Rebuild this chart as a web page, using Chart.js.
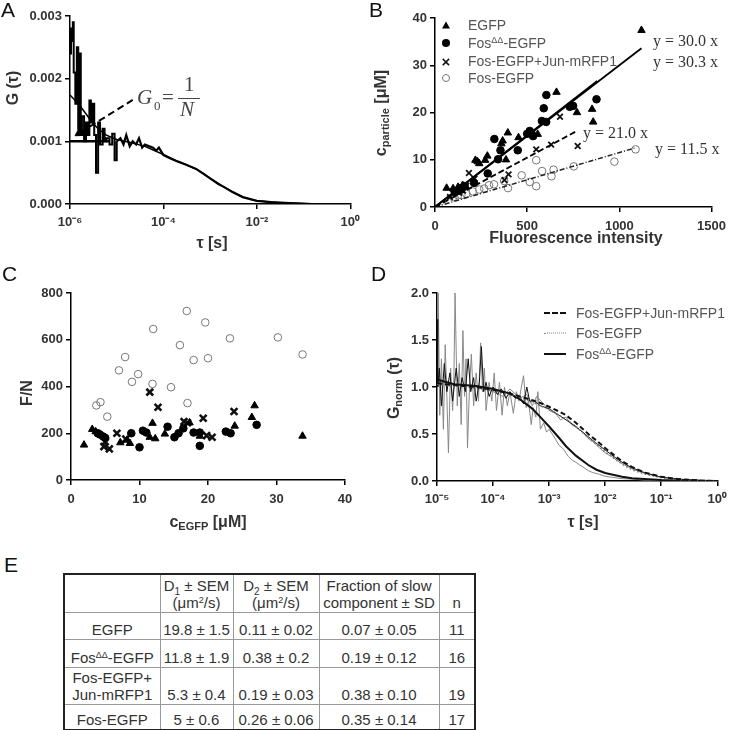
<!DOCTYPE html>
<html>
<head>
<meta charset="utf-8">
<title>FCS figure</title>
<script src="https://cdn.jsdelivr.net/npm/chart.js@4.4.1/dist/chart.umd.min.js"></script>
<style>
  body { margin: 0; background: #fff; }
  #fig { position: relative; width: 733px; height: 730px; overflow: hidden; font-family: "Liberation Sans", Arial, sans-serif; color: #333; }
  #fig canvas { position: absolute; }
  .panel { position: absolute; font-size: 21px; line-height: 24px; color: #111; }
  .ttl { position: absolute; transform: translate(-50%, -50%); font-weight: bold; font-size: 16px; line-height: 18px; white-space: nowrap; color: #333; }
  .ttl.v { transform: translate(-50%, -50%) rotate(-90deg); }
  .ttl sub { font-size: 11px; vertical-align: -3px; line-height: 0; }
  .leg { position: absolute; font-size: 14px; line-height: 16px; color: #555; white-space: nowrap; transform: translateY(-50%); }
  .leg sup, td sup { font-size: 9px; vertical-align: 5px; line-height: 0; }
  .mk { position: absolute; transform: translate(-50%, -50%); }
  .tri { width: 0; height: 0; border-left: 4px solid transparent; border-right: 4px solid transparent; border-bottom: 7px solid #000; }
  .dot { width: 8px; height: 8px; border-radius: 50%; background: #000; }
  .ring { width: 8px; height: 8px; border-radius: 50%; border: 1px solid #777; box-sizing: border-box; }
  .xm { font-size: 15px; font-weight: bold; line-height: 15px; color: #111; }
  .ln { position: absolute; width: 22px; height: 0; transform: translateY(-50%); }
  .eq { position: absolute; font-family: "Liberation Serif", "Times New Roman", serif; font-size: 16px; line-height: 17px; color: #333; white-space: nowrap; transform: translateY(-50%); }
  .g0 { position: absolute; font-family: "Liberation Serif", "Times New Roman", serif; font-size: 21px; line-height: 21px; color: #444; }
  table { position: absolute; left: 63px; top: 573px; width: 411px; border-collapse: collapse; table-layout: fixed; border: 2px solid #222; font-size: 15px; color: #333; }
  td { border: 1px solid #999; text-align: center; vertical-align: bottom; padding: 0 2px 1px; line-height: 17px; white-space: nowrap; overflow: hidden; }
</style>
</head>
<body>
<div id="fig">
  <canvas id="cA" width="366" height="255" style="left:0;top:0"></canvas>
  <canvas id="cB" width="367" height="255" style="left:366px;top:0"></canvas>
  <canvas id="cC" width="366" height="285" style="left:0;top:250px"></canvas>
  <canvas id="cD" width="367" height="285" style="left:366px;top:250px"></canvas>

  <div class="panel" style="left:1px;top:-2px">A</div>
  <div class="panel" style="left:369px;top:-2px">B</div>
  <div class="panel" style="left:2px;top:262px">C</div>
  <div class="panel" style="left:371px;top:262px">D</div>
  <div class="panel" style="left:4px;top:553px">E</div>

  <!-- axis titles -->
  <div class="ttl v" style="left:13px;top:88px">G (τ)</div>
  <div class="ttl" style="left:212px;top:243px">τ [s]</div>
  <div class="ttl v" style="left:381px;top:113px">c<sub>particle</sub> [μM]</div>
  <div class="ttl" style="left:576px;top:238px">Fluorescence intensity</div>
  <div class="ttl v" style="left:27px;top:393px">F/N</div>
  <div class="ttl" style="left:208px;top:522px">c<sub>EGFP</sub> [μM]</div>
  <div class="ttl v" style="left:394px;top:388px">G<sub>norm</sub> (τ)</div>
  <div class="ttl" style="left:583px;top:522px">τ [s]</div>

  <!-- G0 = 1/N annotation -->
  <div class="g0" style="left:137px;top:87px;font-style:italic">G</div>
  <div class="g0" style="left:154px;top:99px;font-size:13px;line-height:13px">0</div>
  <div class="g0" style="left:162px;top:87px">=</div>
  <div class="g0" style="left:184px;top:74px">1</div>
  <div style="position:absolute;left:178px;top:98px;width:22px;height:1px;background:#444"></div>
  <div class="g0" style="left:180px;top:99px;font-style:italic">N</div>

  <!-- legend B -->
  <div class="mk tri" style="left:446px;top:25px"></div>
  <div class="mk dot" style="left:446px;top:43px"></div>
  <div class="mk xm" style="left:446px;top:61px">×</div>
  <div class="mk ring" style="left:446px;top:78px"></div>
  <div class="leg" style="left:468px;top:25px">EGFP</div>
  <div class="leg" style="left:468px;top:43px">Fos<sup>ΔΔ</sup>-EGFP</div>
  <div class="leg" style="left:468px;top:61px">Fos-EGFP+Jun-mRFP1</div>
  <div class="leg" style="left:468px;top:78px">Fos-EGFP</div>

  <!-- fit equations B -->
  <div class="eq" style="left:653px;top:40px">y = 30.0 x</div>
  <div class="eq" style="left:653px;top:61px">y = 30.3 x</div>
  <div class="eq" style="left:583px;top:132px">y = 21.0 x</div>
  <div class="eq" style="left:655px;top:148px">y = 11.5 x</div>

  <!-- legend D -->
  <div class="ln" style="left:544px;top:313px;border-top:2px dashed #111"></div>
  <div class="ln" style="left:544px;top:333px;border-top:1.5px dotted #888"></div>
  <div class="ln" style="left:544px;top:354px;border-top:2px solid #111"></div>
  <div class="leg" style="left:576px;top:313px">Fos-EGFP+Jun-mRFP1</div>
  <div class="leg" style="left:576px;top:333px">Fos-EGFP</div>
  <div class="leg" style="left:576px;top:354px">Fos<sup>ΔΔ</sup>-EGFP</div>

  <table id="tblE"></table>
</div>

<script>
// ---- panel A : autocorrelation curve ----
const tauRawA = [1.0e-6, 1.05e-6, 1.1e-6, 1.15e-6, 1.2e-6, 1.3e-6, 1.4e-6, 1.5e-6, 1.6e-6, 1.7e-6, 1.8e-6, 2.0e-6, 2.2e-6, 2.4e-6, 2.6e-6, 2.8e-6, 3.0e-6, 3.3e-6, 3.6e-6, 4.0e-6, 4.4e-6, 5.0e-6, 5.5e-6, 6.0e-6, 7e-6, 8e-6, 9e-6, 1.0e-5, 1.2e-5, 1.4e-5, 1.6e-5, 1.9e-5, 2.2e-5, 2.6e-5, 3.0e-5, 3.5e-5, 4e-5, 5e-5, 6e-5, 7e-5, 8e-5, 1e-4, 1.5e-4, 2e-4, 3e-4, 5e-4, 7e-4, 1e-3, 1.5e-3, 2e-3, 3e-3, 5e-3, 1e-2, 2e-2, 5e-2, 0.1, 0.15];
const gRawA = [0.0024, 0.0028, 0.0026, 0.0029, 0.0021, 0.0016, 0.0025, 0.0012, 0.0024, 0.0011, 0.0014, 0.0010, 0.0013, 0.0011, 0.00165, 0.0013, 0.0016, 0.0011, 0.0005, 0.0013, 0.00095, 0.0012, 0.0010, 0.00105, 0.00095, 0.00112, 0.0007, 0.0010, 0.00105, 0.00095, 0.0011, 0.00092, 0.0010, 0.00095, 0.00105, 0.0009, 0.00095, 0.00092, 0.0009, 0.00085, 0.0009, 0.00078, 0.00072, 0.00068, 0.00063, 0.00056, 0.00049, 0.00041, 0.00032, 0.00027, 0.00019, 0.00011, 0.00005, 0.00003, 0.000015, 0.000005, 0.0];
const noisyEndA = 27;   // index of 1e-5: spiky (stepped) part before, smooth part after
const tauFitA = [1e-6, 1.5e-6, 2e-6, 3e-6, 4e-6, 6e-6, 1e-5, 2e-5, 4e-5, 1e-4, 2e-4, 5e-4, 1e-3, 2e-3, 5e-3, 1e-2, 3e-2, 0.1];
const gFitA = [0.00174, 0.00160, 0.00148, 0.00130, 0.00120, 0.00110, 0.00103, 0.00098, 0.00092, 0.00079, 0.00068, 0.00056, 0.00041, 0.00027, 0.00011, 0.00005, 0.00002, 0.000003];
const tauG0A = [1e-6, 7e-6];
const gG0A = [0.001, 0.001];
const tauArrowA = [1.65e-6, 2.2e-5];
const gArrowA = [0.00114, 0.00166];
const tickValsA = [1e-6, 1e-4, 1e-2, 1];
const tickLabelsA = ['10⁻⁶', '10⁻⁴', '10⁻²', '10⁰'];

// ---- panel B : concentration vs fluorescence ----
const egfpB = [[63, 4.0], [98, 3.9], [125, 4.2], [140, 3.5], [150, 4.6], [219, 9.9], [231, 9.6], [240, 9.2], [272, 9.9], [284, 10.8], [360, 13.4], [367, 14.0], [385, 10.0], [395, 15.7], [453, 14.7], [557, 15.4], [659, 24.3], [770, 20.0], [852, 20.7], [858, 18.0], [1120, 37.4]];
const fosDDB = [[108, 3.2], [120, 3.4], [134, 3.9], [148, 4.1], [161, 4.4], [212, 5.1], [286, 7.1], [322, 14.4], [342, 10.1], [355, 12.0], [449, 12.0], [500, 15.5], [514, 16.1], [523, 15.6], [532, 15.0], [580, 18.2], [590, 20.9], [603, 18.0], [604, 23.7], [731, 21.2], [749, 21.4], [876, 22.8]];
const fosJunB = [[81, 2.1], [99, 2.8], [130, 3.0], [152, 3.5], [170, 4.5], [184, 7.2], [214, 6.0], [377, 5.7], [399, 6.9], [549, 12.2], [630, 13.2], [678, 19.1], [774, 12.9]];
const fosB = [[99, 2.1], [125, 2.5], [143, 2.5], [170, 2.8], [205, 3.3], [240, 3.7], [267, 3.9], [293, 4.6], [320, 4.8], [375, 5.5], [396, 4.0], [470, 6.7], [514, 5.3], [549, 4.4], [549, 9.9], [581, 7.6], [632, 6.5], [643, 7.9], [753, 8.6], [973, 9.6], [1088, 12.2]];
const fitEgfpB = [[0, 0], [1120, 33.6]];
const fitFosDDB = [[0, 0], [880, 26.7]];
const fitFosJunB = [[0, 0], [775, 16.2]];
const fitFosB = [[0, 0], [1085, 12.5]];

// ---- panel C : brightness vs concentration ----
const egfpC = [[1.9, 150], [3.1, 217], [3.6, 207], [7.2, 160], [8.2, 171], [8.6, 157], [11.5, 183], [11.9, 243], [12.3, 177], [13.7, 197], [17.3, 245], [18.8, 188], [23.9, 231], [26.4, 268], [26.8, 318], [33.8, 188]];
const fosDDC = [[3.9, 200], [4.2, 195], [4.7, 186], [5.0, 180], [8.8, 200], [10.0, 140], [10.5, 211], [11.0, 203], [14.1, 228], [15.1, 183], [15.7, 200], [16.4, 221], [17.9, 203], [18.8, 203], [18.8, 146], [22.6, 207], [23.3, 200], [27.1, 236]];
const fosJunC = [[4.8, 143], [5.0, 164], [5.6, 133], [6.7, 200], [8.0, 175], [11.5, 376], [12.7, 311], [16.5, 250], [17.0, 245], [19.3, 264], [19.8, 190], [20.6, 183], [23.8, 293]];
const fosC = [[3.7, 319], [4.3, 333], [5.3, 271], [7.0, 469], [7.9, 526], [8.9, 420], [9.8, 453], [11.9, 411], [12.0, 646], [14.6, 397], [15.9, 577], [16.9, 723], [17.0, 329], [17.9, 513], [19.6, 674], [20.0, 521], [23.2, 606], [30.2, 610], [33.8, 537]];

// ---- panel D : normalised autocorrelation curves ----
const tauFitD = [1e-5, 2e-5, 5e-5, 1e-4, 2e-4, 3e-4, 5e-4, 7e-4, 1e-3, 1.5e-3, 2e-3, 3e-3, 5e-3, 7e-3, 1e-2, 2e-2, 3e-2, 5e-2, 0.1, 0.2, 0.5, 1];
const fitFosJunD = [1.04, 1.02, 1.00, 0.97, 0.93, 0.90, 0.86, 0.83, 0.79, 0.74, 0.70, 0.62, 0.50, 0.43, 0.35, 0.21, 0.15, 0.09, 0.045, 0.02, 0.005, 0];
const fitFosD = [1.03, 1.01, 0.99, 0.96, 0.92, 0.89, 0.84, 0.80, 0.76, 0.70, 0.66, 0.58, 0.46, 0.39, 0.31, 0.18, 0.12, 0.075, 0.035, 0.015, 0.004, 0];
const fitFosDDD = [1.08, 1.03, 1.01, 0.98, 0.93, 0.87, 0.77, 0.68, 0.58, 0.46, 0.37, 0.27, 0.17, 0.12, 0.085, 0.045, 0.03, 0.02, 0.01, 0.005, 0.002, 0];
const tauNoisyD = [1e-5, 1.05e-5, 1.12e-5, 1.2e-5, 1.3e-5, 1.4e-5, 1.5e-5, 1.6e-5, 1.75e-5, 1.9e-5, 2.0e-5, 2.1e-5, 2.3e-5, 2.5e-5, 2.7e-5, 2.9e-5, 3.1e-5, 3.3e-5, 3.5e-5, 3.8e-5, 4.1e-5, 4.5e-5, 5.0e-5, 5.5e-5, 6.0e-5, 6.5e-5, 7e-5, 7.5e-5, 8.5e-5, 9.5e-5, 1.05e-4, 1.15e-4, 1.3e-4, 1.45e-4, 1.6e-4, 1.8e-4, 2.0e-4, 2.3e-4, 2.6e-4, 2.9e-4, 3.2e-4, 3.5e-4, 3.9e-4, 4.3e-4, 4.8e-4, 5.2e-4, 5.8e-4, 6.3e-4, 7e-4, 8e-4, 9e-4, 1e-3, 1.2e-3, 1.5e-3, 1.8e-3, 2.2e-3, 2.6e-3, 3e-3, 3.5e-3, 4e-3, 5e-3, 6e-3, 8e-3, 1e-2, 1.5e-2, 2e-2, 3e-2, 5e-2, 0.1, 0.2];
const gNoisyD = [1.0, 2.0, 0.7, 1.3, 0.55, 1.45, 0.9, 0.3, 1.2, 0.75, 1.1, 2.0, 0.8, 1.25, 0.6, 1.6, 0.9, 1.3, 0.35, 1.0, 1.35, 0.8, 1.15, 0.85, 1.47, 0.95, 1.2, 0.75, 1.05, 0.85, 1.15, 0.75, 1.05, 0.7, 1.0, 0.8, 0.95, 0.72, 0.95, 0.85, 1.0, 1.12, 0.78, 0.85, 0.6, 0.78, 0.68, 0.95, 0.55, 0.62, 0.52, 0.55, 0.48, 0.38, 0.34, 0.26, 0.22, 0.2, 0.17, 0.15, 0.11, 0.09, 0.07, 0.05, 0.035, 0.025, 0.02, 0.01, 0.005, 0.0];
const tauBlackD = [1e-5, 1.03e-5, 1.1e-5, 1.2e-5, 1.35e-5, 1.5e-5, 1.7e-5, 1.9e-5, 2.2e-5, 2.5e-5, 2.8e-5, 3.2e-5, 3.6e-5, 4e-5, 4.5e-5, 5e-5, 5.7e-5, 6.2e-5, 6.8e-5, 7.5e-5, 8.5e-5, 1e-4, 1.2e-4, 1.4e-4, 1.7e-4, 2e-4, 2.5e-4, 3e-4, 3.5e-4, 4e-4, 4.5e-4, 5.5e-4, 7e-4, 1e-3, 1.5e-3, 2e-3, 3e-3, 5e-3, 7e-3, 1e-2, 1.5e-2, 2e-2, 3e-2, 5e-2, 0.1, 0.2, 0.5, 1];
const gBlackD = [1.72, 1.0, 1.2, 0.8, 1.25, 0.95, 1.15, 0.85, 1.2, 0.9, 1.1, 0.95, 1.3, 0.95, 1.1, 0.85, 1.05, 1.43, 0.95, 1.05, 0.9, 1.0, 0.92, 0.98, 0.88, 0.95, 0.88, 0.9, 0.82, 1.0, 0.85, 0.85, 0.8, 0.77, 0.7, 0.65, 0.58, 0.47, 0.4, 0.33, 0.25, 0.2, 0.14, 0.09, 0.04, 0.02, 0.005, 0];
const tauGray2D = [1e-4, 1.5e-4, 2e-4, 3e-4, 4e-4, 5e-4, 6e-4, 8e-4, 1e-3, 1.3e-3, 1.6e-3, 2e-3, 2.5e-3, 3e-3, 4e-3, 5e-3, 6e-3, 8e-3, 1e-2, 1.3e-2, 1.7e-2, 2.2e-2, 3e-2, 4e-2, 6e-2, 0.1, 0.15, 0.25, 0.4, 0.6, 1];
const gGray2D = [0.95, 0.9, 0.98, 0.88, 0.92, 0.8, 0.9, 0.82, 0.75, 0.72, 0.65, 0.68, 0.6, 0.57, 0.52, 0.45, 0.42, 0.35, 0.3, 0.26, 0.21, 0.17, 0.13, 0.1, 0.07, 0.04, 0.03, 0.015, 0.01, 0.005, 0];
const tickValsD = [1e-5, 1e-4, 1e-3, 1e-2, 1e-1, 1];
const tickLabelsD = ['10⁻⁵', '10⁻⁴', '10⁻³', '10⁻²', '10⁻¹', '10⁰'];

// ---- panel E : table ----
const rowNamesE = ['EGFP', 'Fos<sup>ΔΔ</sup>-EGFP', 'Fos-EGFP+<br>Jun-mRFP1', 'Fos-EGFP'];
const d1ValsE = ['19.8 ± 1.5', '11.8 ± 1.9', '5.3 ± 0.4', '5 ± 0.6'];
const d2ValsE = ['0.11 ± 0.02', '0.38 ± 0.2', '0.19 ± 0.03', '0.26 ± 0.06'];
const fracValsE = ['0.07 ± 0.05', '0.19 ± 0.12', '0.38 ± 0.10', '0.35 ± 0.14'];
const nValsE = [11, 16, 19, 17];

// ---------------------------------------------------------------
const fontFam = '"Liberation Sans", Arial, sans-serif';
const tickFont = { family: fontFam, size: 13, weight: 'bold' };

const zip = (xs, ys) => xs.map((x, i) => ({ x: x, y: ys[i] }));
const pairs = arr => arr.map(p => ({ x: p[0], y: p[1] }));

const gridOpts = { drawOnChartArea: false, drawTicks: true, tickLength: 5, color: '#000', lineWidth: 1.5 };
const borderOpts = { display: true, color: '#000', width: 1.5 };

function linScale(min, max, step, digits, fit, horizontal) {
    return {
        type: 'linear', min: min, max: max,
        ticks: { stepSize: step, color: '#333', font: tickFont, padding: horizontal ? 7 : 3, maxRotation: 0, callback: v => Number(v).toFixed(digits) },
        grid: gridOpts,
        border: borderOpts,
        afterFit: s => { if (horizontal) s.height = fit; else s.width = fit; }
    };
}

function logScale(min, max, vals, labels, fit) {
    return {
        type: 'logarithmic', min: min, max: max,
        afterBuildTicks: s => { s.ticks = vals.map(v => ({ value: v })); },
        ticks: { color: '#333', font: tickFont, padding: 6, autoSkip: false, maxRotation: 0, callback: (v, i) => labels[i] },
        grid: gridOpts,
        border: borderOpts,
        afterFit: s => { s.height = fit; }
    };
}

function line(data, color, width, dash, extra) {
    return Object.assign({ data: data, showLine: true, pointRadius: 0, borderColor: color, borderWidth: width, borderDash: dash || [], fill: false, tension: 0 }, extra || {});
}

function marks(data, style, fillC, strokeC, r, bw) {
    return { data: data, showLine: false, pointStyle: style, pointRadius: r, pointBackgroundColor: fillC, pointBorderColor: strokeC, pointBorderWidth: bw };
}

function makeChart(id, datasets, scales, pad) {
    return new Chart(document.getElementById(id), {
        type: 'scatter',
        data: { datasets: datasets },
        options: {
            responsive: false, animation: false, devicePixelRatio: 1,
            layout: { padding: pad },
            plugins: { legend: { display: false }, tooltip: { enabled: false } },
            scales: scales
        }
    });
}

// A
const rawA = zip(tauRawA, gRawA);
makeChart('cA', [
    line(zip(tauArrowA, gArrowA), '#000', 2, [7, 4], { pointRadius: [6, 0], pointStyle: 'triangle', pointRotation: [238, 0], pointBackgroundColor: '#000', pointBorderColor: '#000', pointBorderWidth: 1 }),
    line(zip(tauG0A, gG0A), '#000', 2.5),
    line(zip(tauFitA, gFitA), '#000', 1.5),
    line(rawA.slice(0, noisyEndA + 1), '#000', 2, [], { stepped: true }),
    line(rawA.slice(noisyEndA), '#000', 2.2)
], {
    x: logScale(1e-6, 1, tickValsA, tickLabelsA, 51),
    y: linScale(0, 0.003, 0.001, 3, 70, false)
}, { left: 0, right: 13, top: 16, bottom: 0 });

// B
makeChart('cB', [
    line(pairs(fitEgfpB), '#000', 1.8),
    line(pairs(fitFosDDB), '#000', 1.8),
    line(pairs(fitFosJunB), '#000', 1.8, [6, 3]),
    line(pairs(fitFosB), '#222', 1.5, [5, 2, 1, 2]),
    marks(pairs(egfpB), 'triangle', '#000', '#000', 4.3, 1),
    marks(pairs(fosDDB), 'circle', '#000', '#000', 3.8, 1),
    marks(pairs(fosJunB), 'crossRot', '#000', '#111', 4, 1.8),
    marks(pairs(fosB), 'circle', 'rgba(255,255,255,0)', '#777', 3.8, 1)
], {
    x: linScale(0, 1500, 500, 0, 48, true),
    y: linScale(0, 40, 10, 0, 69, false)
}, { left: 0, right: 15, top: 18, bottom: 0 });

// C
makeChart('cC', [
    marks(pairs(egfpC), 'triangle', '#000', '#000', 4.3, 1),
    marks(pairs(fosDDC), 'circle', '#000', '#000', 3.8, 1),
    marks(pairs(fosJunC), 'crossRot', '#000', '#111', 4.8, 2.6),
    marks(pairs(fosC), 'circle', 'rgba(255,255,255,0)', '#777', 3.8, 1)
], {
    x: linScale(0, 40, 10, 0, 55, true),
    y: linScale(0, 800, 200, 0, 71, false)
}, { left: 0, right: 21, top: 43, bottom: 0 });

// D
makeChart('cD', [
    line(zip(tauFitD, fitFosJunD), '#111', 2, [5, 3]),
    line(zip(tauFitD, fitFosD), '#777', 1.5, [1.5, 2.5]),
    line(zip(tauFitD, fitFosDDD), '#111', 2),
    line(zip(tauBlackD, gBlackD), '#111', 1),
    line(zip(tauGray2D, gGray2D), '#888', 1),
    line(zip(tauNoisyD, gNoisyD), '#888', 1)
], {
    x: logScale(1e-5, 1, tickValsD, tickLabelsD, 54),
    y: linScale(0, 2, 0.5, 1, 71, false)
}, { left: 0, right: 14, top: 43, bottom: 0 });

// E table
(function buildTable() {
    const tbl = document.getElementById('tblE');
    const widths = [96, 73, 86, 120, 36];
    let html = '<colgroup>' + widths.map(w => '<col style="width:' + w + 'px">').join('') + '</colgroup>';
    html += '<tr style="height:38px"><td></td><td>D<sub style="font-size:10px;line-height:0">1</sub> ± SEM<br>(μm<sup>2</sup>/s)</td>' +
        '<td>D<sub style="font-size:10px;line-height:0">2</sub> ± SEM<br>(μm<sup>2</sup>/s)</td>' +
        '<td>Fraction of slow<br>component ± SD</td><td>n</td></tr>';
    const heights = [27, 28, 37, 26];
    rowNamesE.forEach((name, i) => {
        html += '<tr style="height:' + heights[i] + 'px"><td>' + name + '</td><td>' + d1ValsE[i] + '</td><td>' +
            d2ValsE[i] + '</td><td>' + fracValsE[i] + '</td><td>' + nValsE[i] + '</td></tr>';
    });
    tbl.innerHTML = html;
})();
</script>
</body>
</html>
